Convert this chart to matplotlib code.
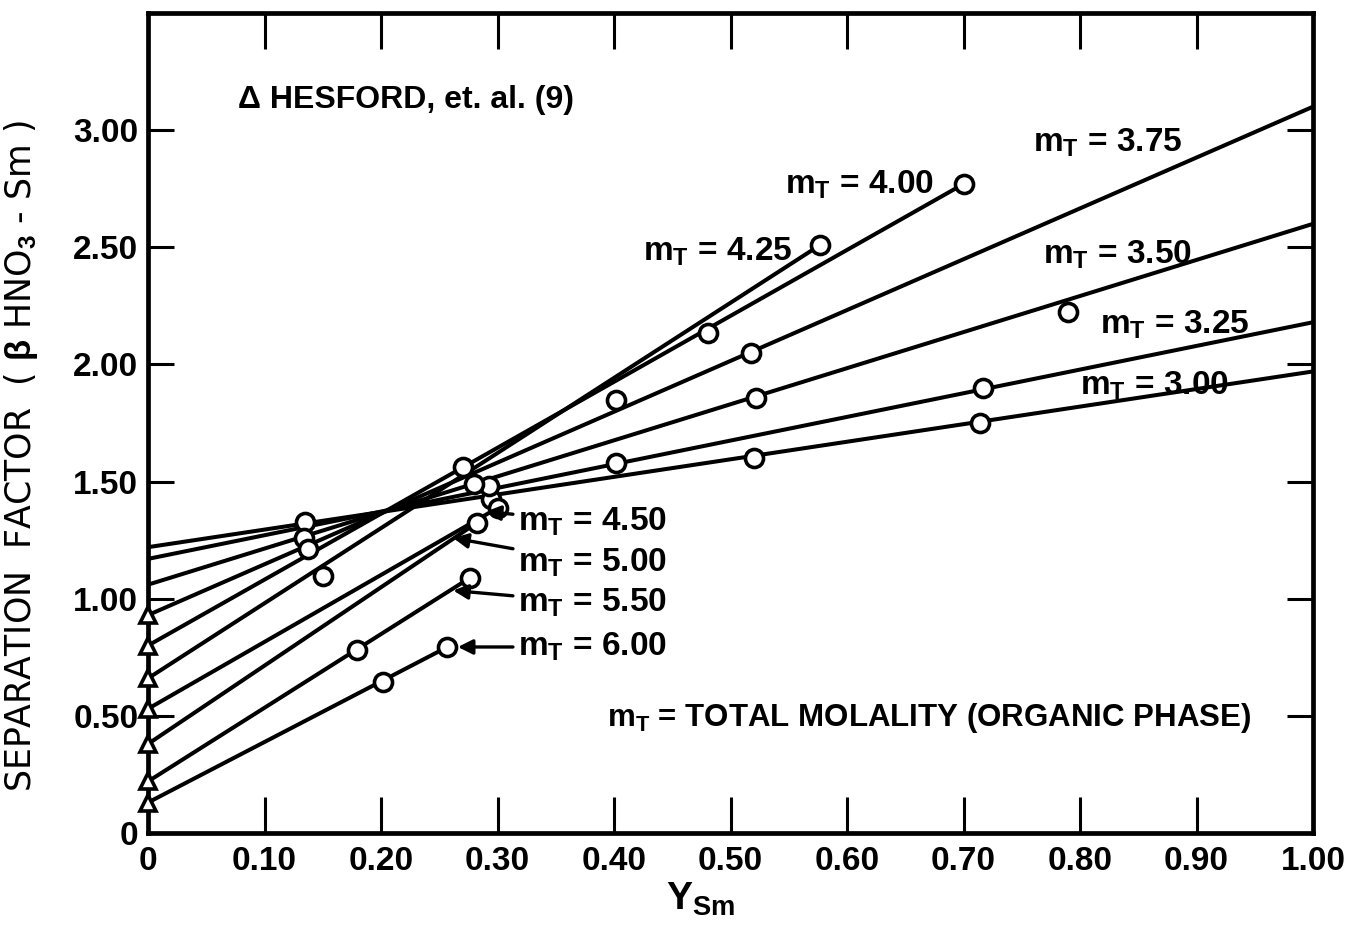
import matplotlib
matplotlib.use("Agg")
import matplotlib.pyplot as plt
from matplotlib import font_manager

# ---------------- data ----------------
mt_values = ["3.00", "3.25", "3.50", "3.75", "4.00", "4.25", "4.50", "5.00", "5.50", "6.00"]
line_start_y = [1.22, 1.17, 1.06, 0.93, 0.80, 0.66, 0.53, 0.38, 0.22, 0.13]
line_end_x = [1.00, 1.00, 1.00, 1.00, 0.700, 0.577, 0.300, 0.282, 0.276, 0.257]
line_end_y = [1.97, 2.18, 2.60, 3.10, 2.77, 2.51, 1.387, 1.323, 1.088, 0.794]

c300_x = [0.135, 0.294, 0.520, 0.714]
c300_y = [1.327, 1.425, 1.600, 1.750]
c325_x = [0.293, 0.402, 0.717]
c325_y = [1.480, 1.579, 1.899]
c350_x = [0.134, 0.280, 0.522, 0.790]
c350_y = [1.259, 1.490, 1.857, 2.224]
c375_x = [0.137, 0.402, 0.518]
c375_y = [1.212, 1.848, 2.049]
c400_x = [0.270, 0.481, 0.700]
c400_y = [1.562, 2.134, 2.770]
c425_x = [0.150, 0.577]
c425_y = [1.097, 2.510]
c450_x = [0.300]
c450_y = [1.387]
c500_x = [0.282]
c500_y = [1.323]
c550_x = [0.179, 0.276]
c550_y = [0.781, 1.088]
c600_x = [0.202, 0.257]
c600_y = [0.644, 0.794]

hesford_x = [0, 0, 0, 0, 0, 0, 0]
hesford_y = [0.93, 0.80, 0.66, 0.53, 0.38, 0.22, 0.13]

x_ticks = [0, 0.1, 0.2, 0.3, 0.4, 0.5, 0.6, 0.7, 0.8, 0.9, 1.0]
x_tick_labels = ["0", "0.10", "0.20", "0.30", "0.40", "0.50", "0.60", "0.70", "0.80", "0.90", "1.00"]
y_ticks = [0, 0.5, 1.0, 1.5, 2.0, 2.5, 3.0]
y_tick_labels = ["0", "0.50", "1.00", "1.50", "2.00", "2.50", "3.00"]

# ---------------- fonts ----------------
avail = {f.name for f in font_manager.fontManager.ttflist}
fam = next((f for f in ["Liberation Sans Narrow", "DejaVu Sans Condensed", "Liberation Sans"]
            if f in avail), "DejaVu Sans")
plt.rcParams["font.family"] = [fam, "DejaVu Sans"]
plt.rcParams["font.weight"] = "bold"
plt.rcParams["mathtext.fontset"] = "custom"
plt.rcParams["mathtext.rm"] = f"{fam}:bold"
plt.rcParams["mathtext.it"] = f"{fam}:bold"
plt.rcParams["mathtext.bf"] = f"{fam}:bold"

# ---------------- figure ----------------
W, H = 1355, 934
fig = plt.figure(figsize=(W / 100, H / 100), dpi=100)
ax = fig.add_axes([148 / W, 101 / H, 1165 / W, 820 / H])
ax.set_xlim(0, 1.0)
ax.set_ylim(0, 3.5)

for s in ax.spines.values():
    s.set_linewidth(3.4)

LW = 2.9
circle_sets = [(c300_x, c300_y), (c325_x, c325_y), (c350_x, c350_y), (c375_x, c375_y),
               (c400_x, c400_y), (c425_x, c425_y), (c450_x, c450_y), (c500_x, c500_y),
               (c550_x, c550_y), (c600_x, c600_y)]

for y0, x1, y1 in zip(line_start_y, line_end_x, line_end_y):
    ax.plot([0, x1], [y0, y1], color="black", lw=LW, solid_capstyle="round", zorder=2)

for cx, cy in circle_sets:
    ax.plot(cx, cy, linestyle="none", marker="o", markersize=13, markerfacecolor="white",
            markeredgecolor="black", markeredgewidth=2.6, zorder=3, clip_on=False)

ax.plot(hesford_x, hesford_y, linestyle="none", marker="^", markersize=11,
        markerfacecolor="white", markeredgecolor="black", markeredgewidth=2.6,
        zorder=4, clip_on=False)

# ---------------- ticks ----------------
ax.set_xticks(x_ticks)
ax.set_xticklabels(x_tick_labels)
ax.set_yticks(y_ticks)
ax.set_yticklabels(y_tick_labels)
ax.tick_params(axis="x", direction="in", length=26, width=2.2, top=True, bottom=True,
               pad=9, labelsize=24)
ax.tick_params(axis="y", direction="in", length=19, width=2.2, left=True, right=True,
               pad=7, labelsize=24)

# ---------------- labels ----------------
FS = 24
label_pos = {
    "4.25": (0.425, 2.48), "4.00": (0.547, 2.765), "3.75": (0.760, 2.945),
    "3.50": (0.768, 2.467), "3.25": (0.817, 2.17), "3.00": (0.800, 1.91),
}
for key, (lx, ly) in label_pos.items():
    ax.text(lx, ly, r"m$_{\mathrm{T}}$ = " + key, fontsize=FS, ha="left", va="center")

arrow_labels = {
    "4.50": ((0.318, 1.327), (0.290, 1.372)),
    "5.00": ((0.318, 1.152), (0.262, 1.259)),
    "5.50": ((0.318, 0.982), (0.262, 1.035)),
    "6.00": ((0.318, 0.794), (0.266, 0.794)),
}
for key, ((lx, ly), (tx, ty)) in arrow_labels.items():
    ax.annotate(r"m$_{\mathrm{T}}$ = " + key, xy=(tx, ty), xytext=(lx, ly),
                fontsize=FS, ha="left", va="center",
                arrowprops=dict(arrowstyle="-|>", lw=2.4, color="black",
                                mutation_scale=22, shrinkA=2, shrinkB=0))

ax.text(0.394, 0.49, r"m$_{\mathrm{T}}$ = TOTAL MOLALITY (ORGANIC PHASE)", fontsize=22.5,
        ha="left", va="center")
ax.text(0.077, 3.13, "Δ HESFORD, et. al. (9)", fontsize=23, ha="left", va="center")

ax.set_xlabel(r"Y$_{\mathrm{Sm}}$", fontsize=28, fontweight="bold")
ax.xaxis.set_label_coords(0.474, -0.058)
ax.set_ylabel(r"SEPARATION  FACTOR  ( $\beta$ HNO$_3$ - Sm )", fontsize=25,
              fontweight="normal", family=["DejaVu Sans"])
ax.yaxis.set_label_coords(-0.093, 0.46)

fig.savefig("out.png", dpi=100)
